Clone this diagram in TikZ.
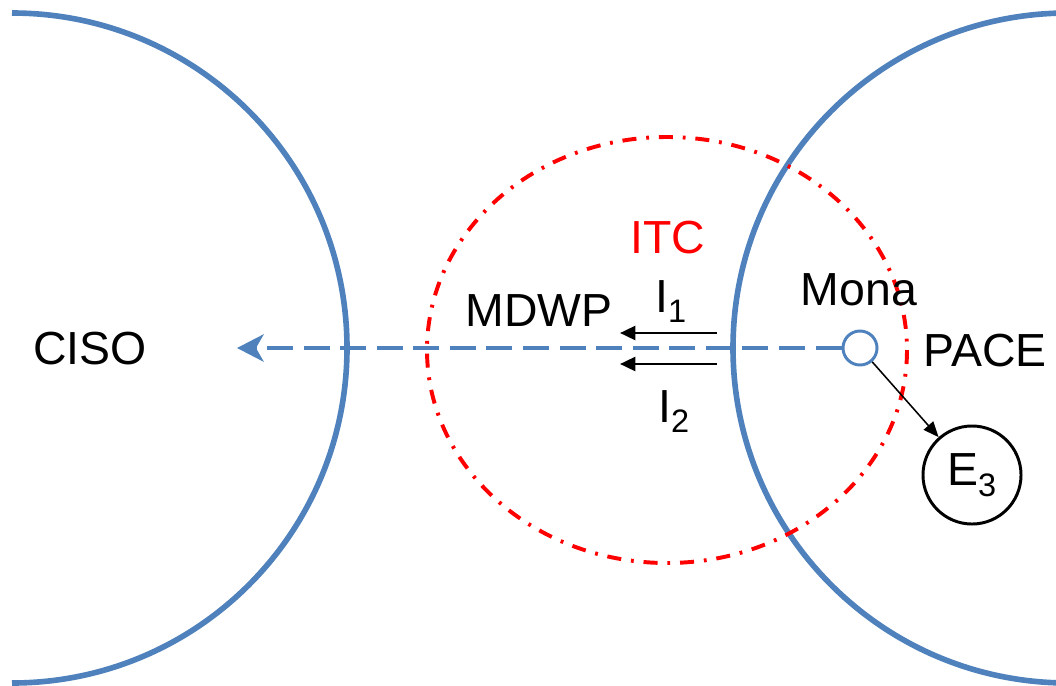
\documentclass[tikz,border=0pt]{standalone}
\usepackage{fontspec}
\setmainfont{Liberation Sans}
\usetikzlibrary{arrows.meta}
\definecolor{zoneblue}{RGB}{79,129,189}

\begin{document}
\begin{tikzpicture}[x=0.025cm,y=-0.025cm,
    lbl/.style={font=\fontsize{33}{39}\selectfont,inner sep=0pt},
    zone/.style={zoneblue,line width=4pt},
    flow/.style={line width=1.9pt,-{Triangle[length=11pt,width=10pt]}}]
  \useasboundingbox (0,0) rectangle (1056,685);
  \def\rz{335}
  % ---------------- zones ----------------
  \draw[zone] (12,13) arc[start angle=-90,end angle=90,radius=\rz];
  \draw[zone] (1068,13) arc[start angle=-90,end angle=-270,radius=\rz];
  \draw[red,line width=2.8pt,dash pattern=on 10pt off 7pt on 2pt off 7pt]
    (667,350) ellipse[x radius=240,y radius=213];
  \node[lbl] (ciso) at (90,349) {CISO};
  \node[lbl] (pace) at (985,351) {PACE};
  \node[lbl,red] (itc) at (668,238) {ITC};
  \node[lbl] (mdwp) at (539,311) {MDWP};
  \node[lbl] (mona) at (859,290) {Mona};
  % ---------------- flows ----------------
  \node[circle,draw=zoneblue,line width=2.1pt,fill=white,minimum size=0.85cm,inner sep=0pt] (mnode) at (860,348) {};
  \coordinate (tip) at (237,348);
  \draw[zoneblue,line width=2.3pt,dash pattern=on 18.5pt off 7.5pt,
    -{Stealth[length=19pt,width=19.5pt,inset=5.5pt]}] (mnode.west) -- (tip);
  \coordinate (i1s) at (717,333);
  \coordinate (i1e) at (620,333);
  \coordinate (i2s) at (717,364);
  \coordinate (i2e) at (620,364);
  \draw[flow] (i1s) -- (i1e);
  \draw[flow] (i2s) -- (i2e);
  \node[lbl,anchor=base west] (ione) at (655,312) {I\textsubscript{1}};
  \node[lbl,anchor=base west] (itwo) at (658,422) {I\textsubscript{2}};
  \node[lbl,circle,draw,line width=2.1pt,minimum size=2.45cm,inner sep=0pt] (ethree) at (972,475) {E\textsubscript{3}};
  \draw[line width=1.1pt,-{Triangle[length=11pt,width=9pt]}] (mnode) -- (ethree);
\end{tikzpicture}
\end{document}
